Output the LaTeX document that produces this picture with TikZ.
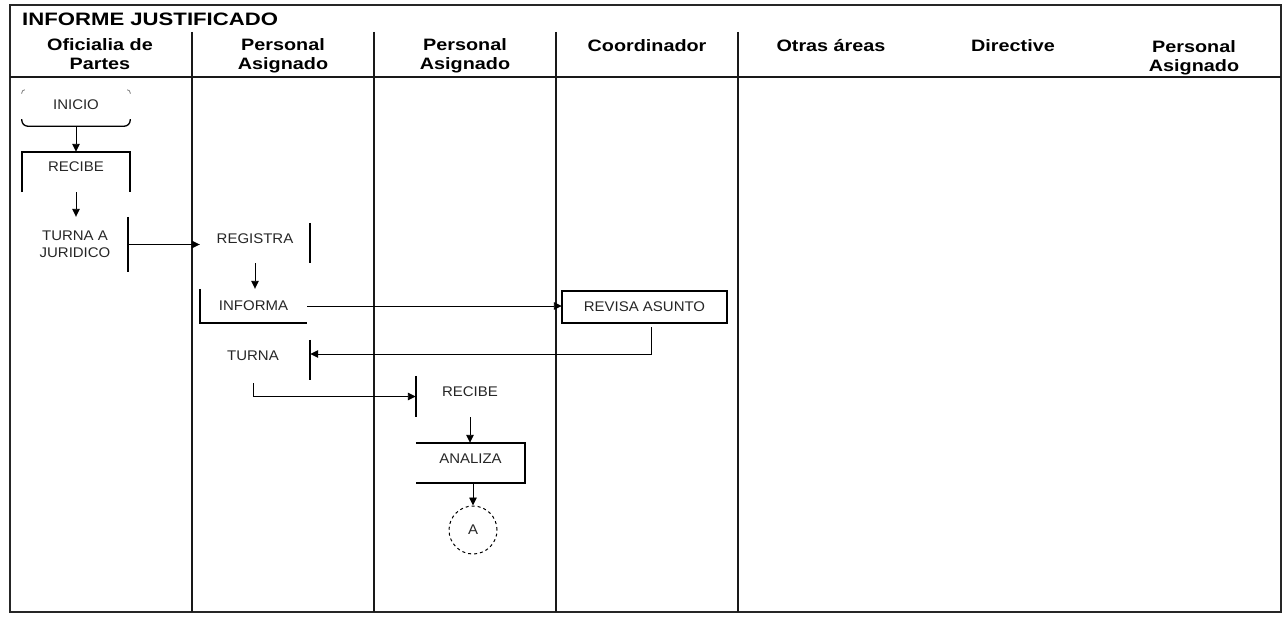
\documentclass[tikz,border=0pt]{standalone}
\usepackage{fontspec}
\setmainfont{Liberation Sans}
\newfontfamily\hdrfont[FakeStretch=1.2]{Liberation Sans}
\newfontfamily\ttlfont[FakeStretch=1.23]{Liberation Sans}
\newfontfamily\ndfont[FakeStretch=1.07]{Liberation Sans}
\usetikzlibrary{arrows.meta,calc}
\begin{document}
\begin{tikzpicture}[x=1pt,y=-1pt,
  frame/.style={line width=1.8pt, draw=black!85},
  lane/.style={line width=1.3pt, draw=black!90},
  hdr/.style={anchor=north, inner sep=0pt, align=center,
    font=\hdrfont\bfseries\fontsize{16.5}{19}\selectfont},
  box/.style={inner sep=0pt, align=center, text=black!85,
    font=\ndfont\fontsize{14}{17}\selectfont},
  edge/.style={line width=1.5pt},
  conn/.style={line width=0.9pt},
  tip/.style={-{Triangle[length=8pt,width=7.5pt]}}]
\useasboundingbox (0,0) rectangle (1283,618);

% frame and lanes
\draw[frame] (10,5) rectangle (1281,612);
\draw[lane] (10,77) -- (1281,77);
\foreach \xx in {192,374,556,738} \draw[lane] (\xx,32) -- (\xx,612);

% title and headers
\node[anchor=base west, inner sep=0pt, font=\ttlfont\bfseries\fontsize{18}{20}\selectfont] (title) at (22,26) {INFORME JUSTIFICADO};
\node[hdr] (h1) at (100,38) {Oficialia de\\Partes};
\node[hdr] (h2) at (283,38) {Personal\\Asignado};
\node[hdr] (h3) at (465,38) {Personal\\Asignado};
\node[hdr] (h4) at (647,39) {Coordinador};
\node[hdr] (h5) at (831,39) {Otras áreas};
\node[hdr] (h6) at (1013,39) {Directive};
\node[hdr] (h7) at (1194,40) {Personal\\Asignado};

% nodes
\node[box, minimum width=108pt, minimum height=36pt, text height=20pt, text depth=16pt] (inicio) at (76,108) {INICIO};
\node[box, minimum width=108pt, minimum height=40pt, text height=19pt, text depth=21pt] (recibe1) at (76,172) {RECIBE};
\node[box, minimum width=106pt, minimum height=55pt] (turnaj) at (75,244.5) {TURNA A\\JURIDICO};
\node[box, minimum width=110pt, minimum height=40pt, text height=20pt, text depth=20pt] (registra) at (255,243) {REGISTRA};
\node[box, minimum width=107pt, minimum height=34pt] (informa) at (253.5,306) {INFORMA};
\node[box, minimum width=165pt, minimum height=32pt] (revisa) at (644.5,307) {REVISA ASUNTO};
\node[box, minimum width=114pt, minimum height=40pt, text height=20pt, text depth=20pt] (turna) at (253,360) {TURNA};
\node[box, minimum width=108pt, minimum height=41pt, text height=20pt, text depth=21pt] (recibe2) at (470,396.5) {RECIBE};
\node[box, minimum width=109pt, minimum height=40pt, text height=20pt, text depth=20pt] (analiza) at (470.5,463) {ANALIZA};
\node[box, circle, draw, dashed, line width=1pt, minimum size=48pt] (circA) at (473,530) {A};

% visible box edges
\draw[line width=1.3pt, rounded corners=6pt] ($(inicio.south west)+(0,-7)$) -- (inicio.south west) -- (inicio.south east) -- ($(inicio.south east)+(0,-7)$);
\draw[line width=0.8pt, black!50, rounded corners=3pt] ($(inicio.north west)+(0,4)$) -- (inicio.north west) -- ($(inicio.north west)+(3,0)$);
\draw[line width=0.8pt, black!50, rounded corners=3pt] ($(inicio.north east)+(0,4)$) -- (inicio.north east) -- ($(inicio.north east)+(-3,0)$);
\draw[edge] (recibe1.south west) -- (recibe1.north west) -- (recibe1.north east) -- (recibe1.south east);
\draw[edge] (turnaj.north east) -- (turnaj.south east);
\draw[edge] (registra.north east) -- (registra.south east);
\draw[edge] (informa.north west) -- (informa.south west) -- (informa.south east);
\draw[edge] (revisa.north west) rectangle (revisa.south east);
\draw[edge] (turna.north east) -- (turna.south east);
\draw[edge] (recibe2.north west) -- (recibe2.south west);
\draw[edge] (analiza.north west) -- (analiza.north east) -- (analiza.south east) -- (analiza.south west);

% connectors
\draw[conn, tip] (inicio.south) -- (recibe1.north);
\draw[conn, tip] (recibe1.south) -- (recibe1.south |- turnaj.north);
\draw[conn, tip] (turnaj.east) -- (turnaj.east -| registra.west);
\draw[conn, tip] (registra.south) -- (registra.south |- informa.north);
\draw[conn, tip] (informa.east) -- (informa.east -| revisa.west);
\draw[conn, tip] ($(revisa.south)+(6.5,4)$) |- ($(turna.east)+(0,-6)$);
\draw[conn, tip] ($(turna.south)+(0,3)$) |- (recibe2.west);
\draw[conn, tip] (recibe2.south) -- (recibe2.south |- analiza.north);
\draw[conn, tip] (analiza.south -| circA.north) -- (circA.north);
\end{tikzpicture}
\end{document}
